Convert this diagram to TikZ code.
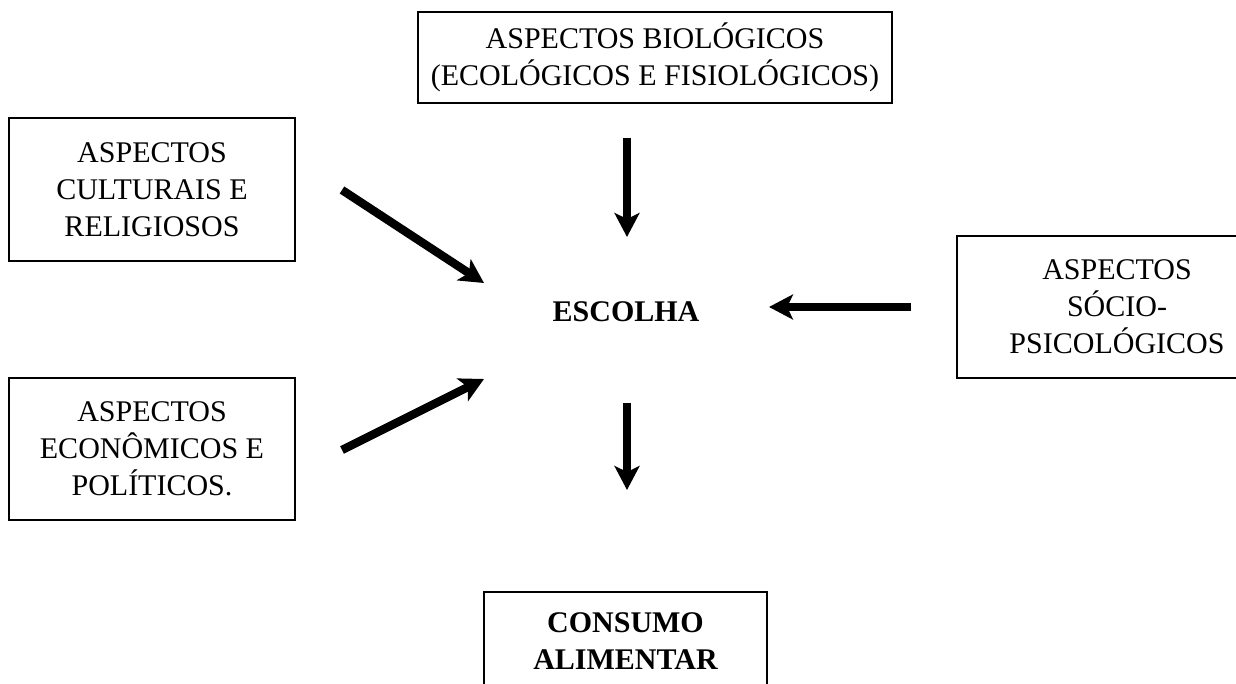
\documentclass[tikz,border=0pt]{standalone}
\usepackage{fontspec}
\setmainfont{Liberation Serif}
\usetikzlibrary{arrows.meta}

\begin{document}
\begin{tikzpicture}[
		x=0.5pt, y=-0.5pt,
		every node/.style={align=center, inner sep=0pt, font=\fontsize{15}{18.5}\selectfont},
		aspecto/.style={draw, line width=1pt},
		seta/.style={line width=4.2pt, -{Stealth[length=12pt, width=12.5pt, inset=3pt]}}
		]
		\useasboundingbox (0,0) rectangle (1236,684);
		% caixas
		\node[aspecto, minimum width=237pt, minimum height=45.5pt] (bio) at (655,57.5)
			{ASPECTOS BIOLÓGICOS\\(ECOLÓGICOS E FISIOLÓGICOS)};
		\node[aspecto, minimum width=143pt, minimum height=71.5pt] (cult) at (152,189.5)
			{ASPECTOS\\CULTURAIS E\\RELIGIOSOS};
		\node[aspecto, minimum width=143pt, minimum height=71pt] (econ) at (152,449)
			{ASPECTOS\\ECONÔMICOS E\\POLÍTICOS.};
		\node[aspecto, minimum width=160pt, minimum height=71pt] (psi) at (1117,307)
			{ASPECTOS\\SÓCIO-\\PSICOLÓGICOS};
		\node[aspecto, minimum width=141.5pt, minimum height=49pt] (cons) at (625.5,641)
			{\bfseries CONSUMO\\\bfseries ALIMENTAR};
		\node (esc) at (626,312) {\bfseries ESCOLHA};
		% pontas das setas
		\coordinate (c1) at (342,190);
		\coordinate (c2) at (484,283);
		\coordinate (e1) at (342,450);
		\coordinate (e2) at (484,379);
		\coordinate (b1) at (627,138);
		\coordinate (b2) at (627,237);
		\coordinate (p1) at (911,307);
		\coordinate (p2) at (769,307);
		\coordinate (s1) at (627,403);
		\coordinate (s2) at (627,490);
		\draw[seta] (c1) -- (c2);
		\draw[seta] (e1) -- (e2);
		\draw[seta] (b1) -- (b2);
		\draw[seta] (p1) -- (p2);
		\draw[seta] (s1) -- (s2);
	\end{tikzpicture}
\end{document}
